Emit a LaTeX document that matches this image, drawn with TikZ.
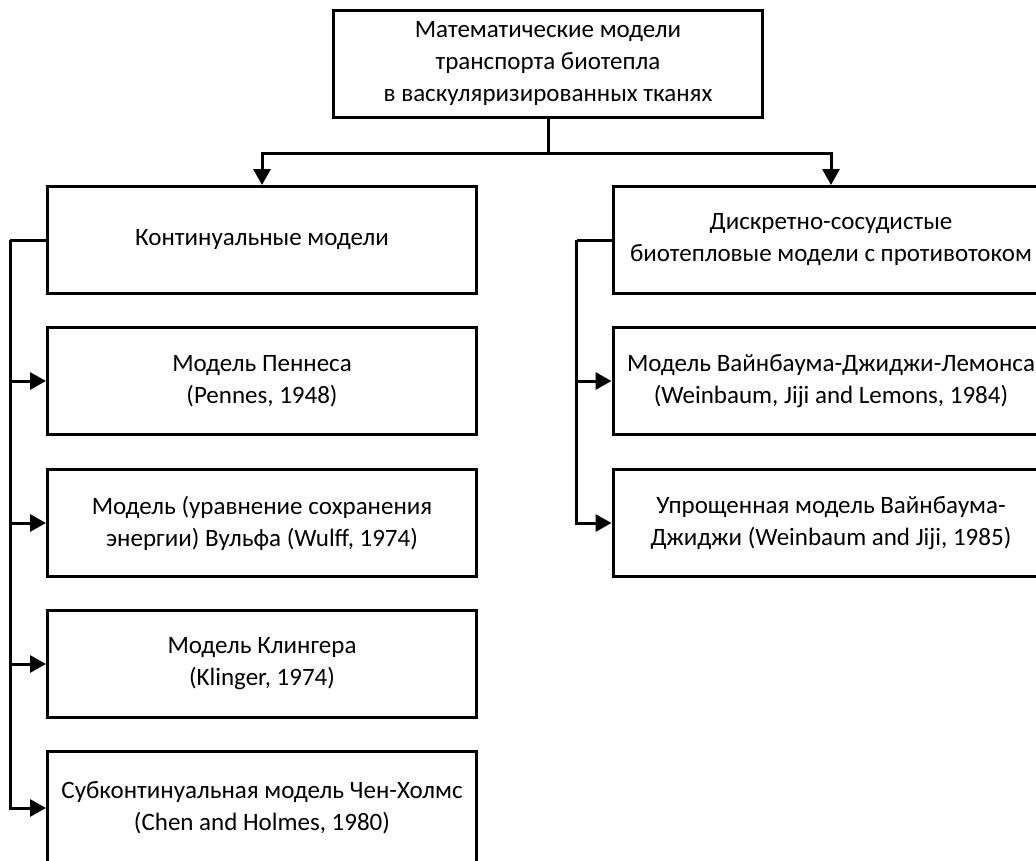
\documentclass[tikz,border=0pt]{standalone}
\usepackage{fontspec}
\setmainfont{Carlito}
\usetikzlibrary{arrows.meta, positioning}

\begin{document}
\begin{tikzpicture}[x=1pt, y=-1pt,
  modelbox/.style={draw, line width=3pt, minimum width=429pt, minimum height=107pt, inner sep=0pt, align=center, font=\fontsize{25}{32}\selectfont},
  link/.style={line width=3pt},
  arrowlink/.style={link, -{Triangle[length=16pt, width=17pt]}}]
  \useasboundingbox (0,0) rectangle (1036,860);
  \clip (0,0) rectangle (1036,860);
  % root
  \node[modelbox] (root) at (548,63.5) {Математические модели\\транспорта биотепла\\в васкуляризированных тканях};
  % left column
  \node[modelbox] (cont) at (262,240) {Континуальные модели};
  \node[modelbox] (pennes) at (262,381) {Модель Пеннеса\\(Pennes, 1948)};
  \node[modelbox] (wulff) at (262,523) {Модель (уравнение сохранения\\энергии) Вульфа (Wulff, 1974)};
  \node[modelbox] (klinger) at (262,664) {Модель Клингера\\(Klinger, 1974)};
  \node[modelbox, minimum height=114pt] (chen) at (262,808) {Субконтинуальная модель Чен-Холмс\\(Chen and Holmes, 1980)};
  % right column
  \node[modelbox, minimum width=436pt] (disc) at (831,240) {Дискретно-сосудистые\\биотепловые модели с противотоком};
  \node[modelbox, minimum width=436pt] (wjl) at (831,381) {Модель Вайнбаума-Джиджи-Лемонса\\(Weinbaum, Jiji and Lemons, 1984)};
  \node[modelbox, minimum width=436pt] (wj) at (831,523) {Упрощенная модель Вайнбаума-\\Джиджи (Weinbaum and Jiji, 1985)};
  % connectors
  \coordinate[below=35pt of root] (split);
  \coordinate[left=36pt of cont] (lbus);
  \coordinate[left=35pt of disc] (rbus);
  \draw[link] (root.south) -- (split);
  \draw[arrowlink] (split) -| (cont.north);
  \draw[arrowlink] (split) -| (disc.north);
  \draw[link] (cont.west) -- (lbus);
  \foreach \target in {pennes, wulff, klinger, chen}
    \draw[arrowlink] (lbus) |- (\target.west);
  \draw[link] (disc.west) -- (rbus);
  \foreach \target in {wjl, wj}
    \draw[arrowlink] (rbus) |- (\target.west);
\end{tikzpicture}
\end{document}
